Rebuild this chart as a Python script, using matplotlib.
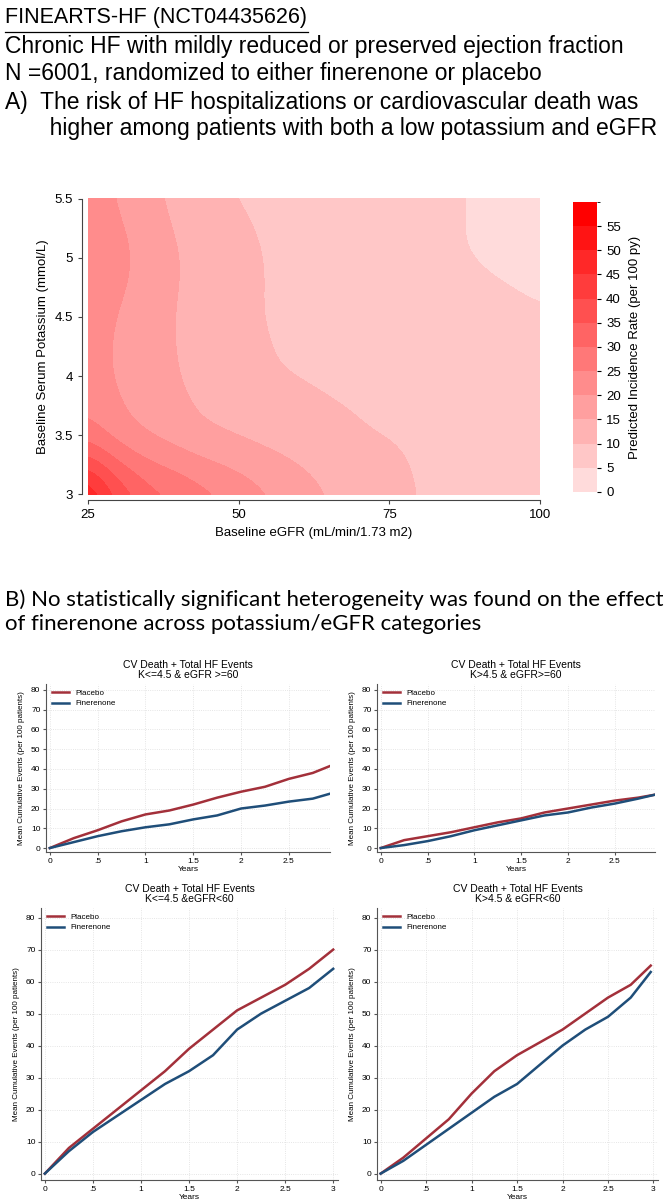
import numpy as np
import matplotlib
matplotlib.use("Agg")
import matplotlib.pyplot as plt
from matplotlib.colors import ListedColormap, BoundaryNorm

plt.rcParams['font.family'] = ['Liberation Sans', 'DejaVu Sans']
NARROW = ['Liberation Sans Narrow', 'Liberation Sans', 'DejaVu Sans']

# ---- Panel A data: incidence rate estimated along rows of potassium ----
k_levels = [3.0, 3.5, 4.0, 4.5, 5.0, 5.5]
row_egfr = {
    3.0: [25, 30, 35, 40, 48, 56, 65, 79, 100],
    3.5: [25, 32, 44, 72, 100],
    4.0: [25, 28.4, 39.7, 55.9, 100],
    4.5: [25, 29, 39, 53, 100],
    5.0: [25, 27, 32.5, 40.4, 54, 87, 100],
    5.5: [25, 28.8, 37, 48, 87.5, 100],
}
row_rate = {
    3.0: [52, 40, 33, 30, 25, 20, 15, 10, 8],
    3.5: [25.5, 20, 15, 10, 8.5],
    4.0: [22, 20, 15, 10, 6.5],
    4.5: [23, 20, 15, 10, 5.5],
    5.0: [26, 25, 20, 15, 10, 5, 3.5],
    5.5: [24, 20, 15, 10, 5, 4],
}
cbar_levels = list(range(0, 60, 5))

# ---- Panel B data ----
titles = ["CV Death + Total HF Events\nK<=4.5 & eGFR >=60",
          "CV Death + Total HF Events\nK>4.5 & eGFR>=60",
          "CV Death + Total HF Events\nK<=4.5 &eGFR<60",
          "CV Death + Total HF Events\nK>4.5 & eGFR<60"]
t1 = [0, .25, .5, .75, 1, 1.25, 1.5, 1.75, 2, 2.25, 2.5, 2.75, 2.93]
t3 = [0, .25, .5, .75, 1, 1.25, 1.5, 1.75, 2, 2.25, 2.5, 2.75, 3.0]
t4 = [0, .25, .5, .75, 1, 1.25, 1.5, 1.75, 2, 2.25, 2.5, 2.75, 2.97]
placebo1 = [0, 5, 9, 13.5, 17, 19, 22, 25.5, 28.5, 31, 35, 38, 41.5]
finer1 = [0, 3, 6, 8.5, 10.5, 12, 14.5, 16.5, 20, 21.5, 23.5, 25, 27.5]
placebo2 = [0, 4, 6, 8, 10.5, 13, 15, 18, 20, 22, 24, 25.5, 27]
finer2 = [0, 1.5, 3.5, 6, 9, 11.5, 14, 16.5, 18, 20.5, 22.5, 25, 27]
placebo3 = [0, 8, 14, 20, 26, 32, 39, 45, 51, 55, 59, 64, 70]
finer3 = [0, 7, 13, 18, 23, 28, 32, 37, 45, 50, 54, 58, 64]
placebo4 = [0, 5, 11, 17, 25, 32, 37, 41, 45, 50, 55, 59, 65]
finer4 = [0, 4, 9, 14, 19, 24, 28, 34, 40, 45, 49, 55, 63]

fig = plt.figure(figsize=(6.67, 12), dpi=100)

# ---- header texts ----
FS = 16.5
fig.text(0.008, 0.994, "FINEARTS-HF (NCT04435626)", fontsize=15.5, va='top')
fig.add_artist(plt.Line2D([0.008, 0.462], [0.9735, 0.9735], color='black', lw=0.9))
fig.text(0.008, 0.9705, "Chronic HF with mildly reduced or preserved ejection fraction", fontsize=FS, va='top')
fig.text(0.008, 0.9485, "N =6001, randomized to either finerenone or placebo", fontsize=FS, va='top')
fig.text(0.008, 0.9245, "A)  The risk of HF hospitalizations or cardiovascular death was\n       higher among patients with both a low potassium and eGFR",
         fontsize=FS, va='top', linespacing=1.2)
fig.text(0.008, 0.509, "B) No statistically significant heterogeneity was found on the effect\nof finerenone across potassium/eGFR categories",
         fontsize=16, va='top', linespacing=1.25, family=['Lato', 'DejaVu Sans'])

# ---- Panel A contour (rows interpolated on a fine grid, lightly smoothed for rendering) ----
eg = np.linspace(25, 100, 301)
Zr = np.array([np.interp(eg, row_egfr[k], row_rate[k]) for k in k_levels])
kk = np.linspace(3, 5.5, 201)
Z = np.array([np.interp(kk, k_levels, Zr[:, j]) for j in range(len(eg))]).T
def blur(A, r, axis):
    w = np.exp(-0.5 * (np.arange(-3*r, 3*r+1) / r) ** 2); w /= w.sum()
    pad = [(0, 0), (0, 0)]; pad[axis] = (3*r, 3*r)
    P = np.pad(A, pad, mode='edge')
    return np.apply_along_axis(lambda v: np.convolve(v, w, mode='valid'), axis, P)
Z = blur(blur(Z, 14, 0), 6, 1)
ax = fig.add_axes([82/667, 1-500/1200, 464/667, 307/1200])
lo = np.array([1.0, 0.86, 0.86]); hi = np.array([1.0, 0.0, 0.0])
n = len(cbar_levels)
cols = [tuple(lo + (hi-lo)*i/(n-1)) for i in range(n)]
cmap = ListedColormap(cols)
bounds = cbar_levels + [58]
norm = BoundaryNorm(bounds, cmap.N)
cf = ax.contourf(eg, kk, Z, levels=bounds, cmap=cmap, norm=norm)
ax.set_xlim(24, 101); ax.set_ylim(2.95, 5.55)
ax.set_xticks([25, 50, 75, 100]); ax.set_yticks([3, 3.5, 4, 4.5, 5, 5.5])
ax.set_yticklabels(['3', '3.5', '4', '4.5', '5', '5.5'])
ax.spines['top'].set_visible(False); ax.spines['right'].set_visible(False)
ax.spines['left'].set_bounds(3, 5.5); ax.spines['bottom'].set_bounds(25, 100)
for s in ['left', 'bottom']:
    ax.spines[s].set_color('#444'); ax.spines[s].set_linewidth(0.8)
ax.tick_params(labelsize=9.5, length=3, color='#444')
ax.set_xlabel("Baseline eGFR (mL/min/1.73 m2)", fontsize=9.5)
ax.set_ylabel("Baseline Serum Potassium (mmol/L)", fontsize=9.5)
cax = fig.add_axes([573/667, 1-492/1200, 24/667, 290/1200])
cb = fig.colorbar(cf, cax=cax, ticks=cbar_levels)
cb.outline.set_visible(False)
cax.tick_params(labelsize=9.5, length=3)
cb.set_label("Predicted Incidence Rate (per 100 py)", fontsize=9.5, labelpad=6)

# ---- Panel B ----
panels = [
    (t1, placebo1, finer1, [46/667, 1-852/1200, 284/667, 168/1200], 2.93, [0, .5, 1, 1.5, 2, 2.5]),
    (t1, placebo2, finer2, [377/667, 1-852/1200, 278/667, 168/1200], 2.93, [0, .5, 1, 1.5, 2, 2.5]),
    (t3, placebo3, finer3, [41/667, 1-1180/1200, 297/667, 272/1200], 3.05, [0, .5, 1, 1.5, 2, 2.5, 3]),
    (t4, placebo4, finer4, [377/667, 1-1180/1200, 281/667, 272/1200], 3.05, [0, .5, 1, 1.5, 2, 2.5, 3]),
]
for (t, p, f, rect, xmax, xt), title in zip(panels, titles):
    a = fig.add_axes(rect)
    a.plot(t, p, color='#a3303a', lw=1.8, label='Placebo')
    a.plot(t, f, color='#1f4e79', lw=1.8, label='Finerenone')
    a.set_xlim(-0.04, xmax); a.set_ylim(-2, 83)
    a.set_yticks(range(0, 81, 10)); a.set_xticks(xt)
    a.set_xticklabels(['0' if v == 0 else ('%g' % v).lstrip('0') if v < 1 else '%g' % v for v in xt])
    a.grid(True, color='#dddddd', ls=':', lw=0.6)
    a.spines['top'].set_visible(False); a.spines['right'].set_visible(False)
    for s in ['left', 'bottom']:
        a.spines[s].set_color('#555'); a.spines[s].set_linewidth(0.8)
    a.tick_params(labelsize=6, length=2.5, color='#555', pad=1.5)
    for lab in a.get_xticklabels() + a.get_yticklabels():
        lab.set_family(NARROW)
    a.set_title(title, fontsize=7.5, family=NARROW, linespacing=1.0, pad=4)
    a.set_xlabel("Years", fontsize=6, family=NARROW, labelpad=1)
    a.set_ylabel("Mean Cumulative Events (per 100 patients)", fontsize=5.8, family=NARROW)
    a.legend(loc='upper left', frameon=False, handlelength=2.2,
             borderaxespad=0.3, labelspacing=0.3, prop={'family': NARROW, 'size': 5.8})

fig.savefig("out.png", dpi=100)
